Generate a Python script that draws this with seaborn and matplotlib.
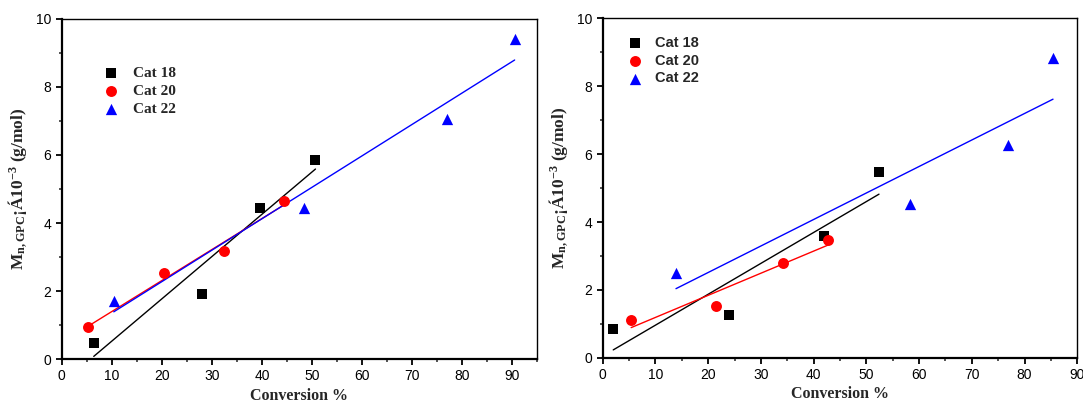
import numpy as np
import pandas as pd
import matplotlib
matplotlib.use("Agg")
import matplotlib.pyplot as plt
from matplotlib.ticker import MultipleLocator
import seaborn as sns

sns.set_theme(style="ticks")
plt.rcParams["font.family"] = ["Liberation Sans", "DejaVu Sans"]
plt.rcParams["mathtext.fontset"] = "custom"
plt.rcParams["mathtext.rm"] = "Liberation Serif:bold"
plt.rcParams["mathtext.bf"] = "Liberation Serif:bold"
plt.rcParams["mathtext.it"] = "Liberation Serif:bold"

# Panel (a)
a_cat18_x = [6.4, 28.0, 39.7, 50.7]
a_cat18_y = [0.47, 1.90, 4.43, 5.85]
a_cat20_x = [5.3, 20.5, 32.4, 44.5]
a_cat20_y = [0.94, 2.53, 3.18, 4.65]
a_cat22_x = [10.4, 48.4, 76.9, 90.5]
a_cat22_y = [1.72, 4.43, 7.05, 9.42]

# Panel (b)
b_cat18_x = [2.0, 23.9, 42.0, 52.4]
b_cat18_y = [0.84, 1.25, 3.59, 5.47]
b_cat20_x = [5.4, 21.4, 34.2, 42.7]
b_cat20_y = [1.11, 1.53, 2.79, 3.47]
b_cat22_x = [13.9, 58.3, 76.8, 85.4]
b_cat22_y = [2.49, 4.52, 6.27, 8.83]

series_names = ["Cat 18", "Cat 20", "Cat 22"]
colors = ["black", "#ff0000", "#0000ff"]
markers = ["s", "o", "^"]
marker_sizes = [45, 62, 66]

fig = plt.figure(figsize=(10.83, 4.03), dpi=100)
ax1 = fig.add_axes([0.057, 0.109, 0.439, 0.844])
ax2 = fig.add_axes([0.5565, 0.1124, 0.4382, 0.8417])

panels = [
    (ax1, [(a_cat18_x, a_cat18_y), (a_cat20_x, a_cat20_y), (a_cat22_x, a_cat22_y)], 95),
    (ax2, [(b_cat18_x, b_cat18_y), (b_cat20_x, b_cat20_y), (b_cat22_x, b_cat22_y)], 90),
]

for ax, data, xmax in panels:
    for (xs, ys), name, c, m, s in zip(data, series_names, colors, markers, marker_sizes):
        df = pd.DataFrame({"conv": xs, "mn": ys})
        sns.regplot(data=df, x="conv", y="mn", ax=ax, ci=None, truncate=True,
                    marker=m, color=c, label=name,
                    scatter_kws={"s": s, "alpha": 1, "linewidths": 0, "zorder": 3},
                    line_kws={"lw": 1.0, "zorder": 2})
    ax.set_xlim(0, xmax)
    ax.set_ylim(0, 10)
    ax.xaxis.set_major_locator(MultipleLocator(10))
    ax.xaxis.set_minor_locator(MultipleLocator(5))
    ax.yaxis.set_major_locator(MultipleLocator(2))
    ax.yaxis.set_minor_locator(MultipleLocator(1))
    ax.tick_params(which="major", direction="out", length=4.5, width=1.3, labelsize=10,
                   colors="black", pad=3)
    ax.tick_params(which="minor", direction="out", length=2.5, width=1.1)
    for side in ["left", "bottom"]:
        ax.spines[side].set_linewidth(1.6)
    for side in ["top", "right"]:
        ax.spines[side].set_linewidth(1.0)
    for sp in ax.spines.values():
        sp.set_color("black")
    ax.set_xlabel("Conversion %", family="Liberation Serif", fontweight="bold",
                  fontsize=11.5, labelpad=3)
    ax.set_ylabel(r"$\mathrm{M_{n,GPC}}$¡Á10$^{-3}$ (g/mol)", family="Liberation Serif",
                  fontweight="bold", fontsize=12.5, labelpad=5)

ax1.legend(loc="upper left", bbox_to_anchor=(0.075, 0.88), frameon=False,
           prop={"family": "Liberation Serif", "weight": "bold", "size": 11},
           handletextpad=0.9, labelspacing=0.3, handlelength=1.0, borderaxespad=0)
ax2.legend(loc="upper left", bbox_to_anchor=(0.04, 0.965), frameon=False,
           prop={"family": "Liberation Sans", "weight": "bold", "size": 10.5},
           handletextpad=0.9, labelspacing=0.25, handlelength=1.0, borderaxespad=0)

fig.savefig("out.png", dpi=100)
